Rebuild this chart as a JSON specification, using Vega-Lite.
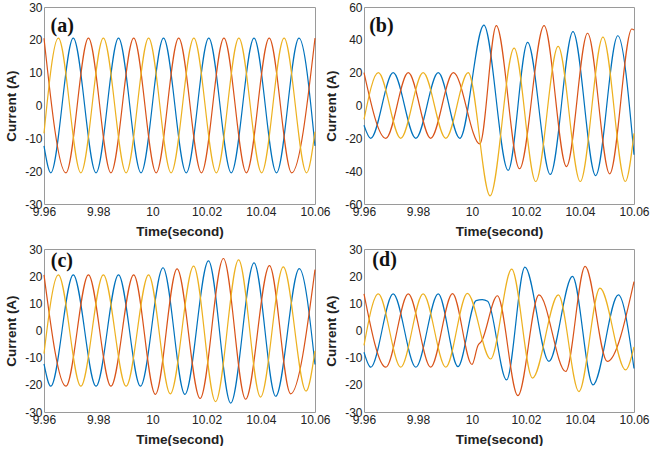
{
  "$schema": "https://vega.github.io/schema/vega-lite/v6.json",
  "background": "white",
  "padding": {"left": 4, "top": 0, "right": 0, "bottom": 0},
  "config": {
    "view": {"stroke": "#9a9a9a", "strokeWidth": 1},
    "axis": {"grid": false, "ticks": false, "domain": false, "labelFont": "Liberation Sans", "labelFontSize": 12, "labelColor": "#222", "labelPadding": 2, "labelFlush": false, "labelOverlap": false, "labelExpr": "'' + datum.value", "titleFont": "Liberation Sans", "titleFontSize": 13.5, "titleFontWeight": "bold", "titleColor": "#222"},
    "axisX": {"titlePadding": 7},
    "axisY": {"titlePadding": 6},
    "line": {"strokeWidth": 1.2, "interpolate": "monotone", "clip": true}
  },
  "datasets": {
    "a": [
      {"s":"A","t":9.96,"v":-12.3},{"s":"A","t":9.9625,"v":-20.5},{"s":"A","t":9.9708,"v":20.5},{"s":"A","t":9.9792,"v":-20.5},{"s":"A","t":9.9875,"v":20.5},{"s":"A","t":9.9958,"v":-20.5},{"s":"A","t":10.0041,"v":20.5},{"s":"A","t":10.0125,"v":-20.5},{"s":"A","t":10.0208,"v":20.5},{"s":"A","t":10.0291,"v":-20.5},{"s":"A","t":10.0375,"v":20.5},{"s":"A","t":10.0458,"v":-20.5},{"s":"A","t":10.0541,"v":20.5},{"s":"A","t":10.06,"v":-12.3},
      {"s":"B","t":9.96,"v":20.5},{"s":"B","t":9.9681,"v":-20.5},{"s":"B","t":9.9764,"v":20.5},{"s":"B","t":9.9847,"v":-20.5},{"s":"B","t":9.9931,"v":20.5},{"s":"B","t":10.0014,"v":-20.5},{"s":"B","t":10.0097,"v":20.5},{"s":"B","t":10.0181,"v":-20.5},{"s":"B","t":10.0264,"v":20.5},{"s":"B","t":10.0347,"v":-20.5},{"s":"B","t":10.0431,"v":20.5},{"s":"B","t":10.0514,"v":-20.5},{"s":"B","t":10.06,"v":20.5},
      {"s":"C","t":9.96,"v":-8.5},{"s":"C","t":9.9653,"v":20.5},{"s":"C","t":9.9736,"v":-20.5},{"s":"C","t":9.9819,"v":20.5},{"s":"C","t":9.9903,"v":-20.5},{"s":"C","t":9.9986,"v":20.5},{"s":"C","t":10.0069,"v":-20.5},{"s":"C","t":10.0153,"v":20.5},{"s":"C","t":10.0236,"v":-20.5},{"s":"C","t":10.0319,"v":20.5},{"s":"C","t":10.0403,"v":-20.5},{"s":"C","t":10.0486,"v":20.5},{"s":"C","t":10.0569,"v":-20.5},{"s":"C","t":10.06,"v":-8}
    ],
    "b": [
      {"s":"A","t":9.96,"v":-12},{"s":"A","t":9.9625,"v":-20},{"s":"A","t":9.9708,"v":20},{"s":"A","t":9.9792,"v":-20},{"s":"A","t":9.9875,"v":20},{"s":"A","t":9.9955,"v":-20},{"s":"A","t":10.0044,"v":49},{"s":"A","t":10.0134,"v":-39.5},{"s":"A","t":10.0206,"v":38.4},{"s":"A","t":10.029,"v":-42},{"s":"A","t":10.0374,"v":45},{"s":"A","t":10.0458,"v":-42.7},{"s":"A","t":10.054,"v":42.5},{"s":"A","t":10.06,"v":-30},
      {"s":"B","t":9.96,"v":20},{"s":"B","t":9.9681,"v":-20},{"s":"B","t":9.9764,"v":20},{"s":"B","t":9.9847,"v":-20},{"s":"B","t":9.9931,"v":20},{"s":"B","t":10.0029,"v":-23.4},{"s":"B","t":10.009,"v":48.6},{"s":"B","t":10.0176,"v":-38.5},{"s":"B","t":10.0267,"v":48.6},{"s":"B","t":10.035,"v":-37.2},{"s":"B","t":10.0428,"v":44},{"s":"B","t":10.051,"v":-41.6},{"s":"B","t":10.0592,"v":46.6},{"s":"B","t":10.06,"v":46},
      {"s":"C","t":9.96,"v":-8.5},{"s":"C","t":9.9653,"v":20},{"s":"C","t":9.9736,"v":-20},{"s":"C","t":9.9819,"v":20},{"s":"C","t":9.9903,"v":-20},{"s":"C","t":9.9986,"v":20},{"s":"C","t":10.0067,"v":-55},{"s":"C","t":10.0156,"v":35},{"s":"C","t":10.0236,"v":-46.3},{"s":"C","t":10.0319,"v":36},{"s":"C","t":10.0401,"v":-46.3},{"s":"C","t":10.0485,"v":41.7},{"s":"C","t":10.0568,"v":-46.3},{"s":"C","t":10.06,"v":-17}
    ],
    "c": [
      {"s":"A","t":9.96,"v":-12.3},{"s":"A","t":9.9625,"v":-20.5},{"s":"A","t":9.9708,"v":20.5},{"s":"A","t":9.9792,"v":-20.5},{"s":"A","t":9.9875,"v":20.5},{"s":"A","t":9.9956,"v":-20.5},{"s":"A","t":10.0039,"v":23.1},{"s":"A","t":10.012,"v":-23.5},{"s":"A","t":10.0207,"v":25.6},{"s":"A","t":10.0289,"v":-26.7},{"s":"A","t":10.0375,"v":24.9},{"s":"A","t":10.0455,"v":-24.2},{"s":"A","t":10.0542,"v":22.8},{"s":"A","t":10.06,"v":-12.5},
      {"s":"B","t":9.96,"v":20.5},{"s":"B","t":9.9681,"v":-20.5},{"s":"B","t":9.9764,"v":20.5},{"s":"B","t":9.9847,"v":-20.5},{"s":"B","t":9.9931,"v":20.5},{"s":"B","t":10.0011,"v":-23.5},{"s":"B","t":10.0091,"v":22.7},{"s":"B","t":10.0176,"v":-25},{"s":"B","t":10.0262,"v":26.5},{"s":"B","t":10.0344,"v":-25.3},{"s":"B","t":10.0432,"v":23.9},{"s":"B","t":10.051,"v":-23.3},{"s":"B","t":10.06,"v":22.4},
      {"s":"C","t":9.96,"v":-8.5},{"s":"C","t":9.9653,"v":20.5},{"s":"C","t":9.9736,"v":-20.5},{"s":"C","t":9.9819,"v":20.5},{"s":"C","t":9.9903,"v":-20.5},{"s":"C","t":9.9986,"v":20.5},{"s":"C","t":10.0066,"v":-23.3},{"s":"C","t":10.0152,"v":23.7},{"s":"C","t":10.0233,"v":-26.2},{"s":"C","t":10.0318,"v":26},{"s":"C","t":10.0399,"v":-24.5},{"s":"C","t":10.0483,"v":23.4},{"s":"C","t":10.0567,"v":-22.3},{"s":"C","t":10.06,"v":-7.5}
    ],
    "d": [
      {"s":"A","t":9.96,"v":-8},{"s":"A","t":9.9625,"v":-13.5},{"s":"A","t":9.9708,"v":13.5},{"s":"A","t":9.9792,"v":-13.5},{"s":"A","t":9.9875,"v":13.5},{"s":"A","t":9.9948,"v":-13.3},{"s":"A","t":10.0015,"v":11},{"s":"A","t":10.0038,"v":11.4},{"s":"A","t":10.0058,"v":10.8},{"s":"A","t":10.0128,"v":-18.2},{"s":"A","t":10.0196,"v":23.3},{"s":"A","t":10.0285,"v":-11.4},{"s":"A","t":10.0372,"v":19.9},{"s":"A","t":10.0448,"v":-20},{"s":"A","t":10.0542,"v":13.1},{"s":"A","t":10.06,"v":-14},
      {"s":"B","t":9.96,"v":13.5},{"s":"B","t":9.9681,"v":-13.5},{"s":"B","t":9.9764,"v":13.5},{"s":"B","t":9.9847,"v":-13.5},{"s":"B","t":9.9928,"v":13.6},{"s":"B","t":10.0,"v":-12.5},{"s":"B","t":10.0022,"v":-5.5},{"s":"B","t":10.0035,"v":-4},{"s":"B","t":10.0094,"v":12.8},{"s":"B","t":10.017,"v":-24},{"s":"B","t":10.0248,"v":13.1},{"s":"B","t":10.0347,"v":-15.1},{"s":"B","t":10.0419,"v":23.6},{"s":"B","t":10.0501,"v":-11.4},{"s":"B","t":10.06,"v":18},
      {"s":"C","t":9.96,"v":-5.5},{"s":"C","t":9.9653,"v":13.5},{"s":"C","t":9.9736,"v":-13.5},{"s":"C","t":9.9819,"v":13.5},{"s":"C","t":9.9903,"v":-13.5},{"s":"C","t":9.9983,"v":13.7},{"s":"C","t":10.0069,"v":-10.5},{"s":"C","t":10.0147,"v":22.6},{"s":"C","t":10.0224,"v":-17.5},{"s":"C","t":10.032,"v":13.1},{"s":"C","t":10.0396,"v":-22.5},{"s":"C","t":10.0474,"v":15.6},{"s":"C","t":10.0569,"v":-14.5},{"s":"C","t":10.06,"v":-6}
    ]
  },
  "vconcat": [
    {
      "hconcat": [
        {
          "width": 271, "height": 197,
          "layer": [
            {"data": {"name": "a"}, "mark": {"type": "line"},
             "encoding": {
               "x": {"field": "t", "type": "quantitative", "scale": {"domain": [9.96, 10.06], "nice": false, "zero": false}, "axis": {"values": [9.96, 9.98, 10, 10.02, 10.04, 10.06], "title": "Time(second)"}},
               "y": {"field": "v", "type": "quantitative", "scale": {"domain": [-30, 30], "nice": false}, "axis": {"values": [-30, -20, -10, 0, 10, 20, 30], "tickCount": 7, "title": "Current (A)"}},
               "color": {"field": "s", "type": "nominal", "scale": {"domain": ["A", "B", "C"], "range": ["#0072BD", "#D95319", "#EDB120"]}, "legend": null}
             }},
            {"data": {"values": [{"label": "(a)"}]}, "mark": {"type": "text", "font": "Liberation Serif", "fontSize": 20, "fontWeight": "bold", "align": "left", "baseline": "middle", "color": "#111"},
             "encoding": {"x": {"datum": 9.9624, "type": "quantitative"}, "y": {"datum": 24.2, "type": "quantitative"}, "text": {"field": "label"}}}
          ]
        },
        {
          "width": 270, "height": 197,
          "layer": [
            {"data": {"name": "b"}, "mark": {"type": "line"},
             "encoding": {
               "x": {"field": "t", "type": "quantitative", "scale": {"domain": [9.96, 10.06], "nice": false, "zero": false}, "axis": {"values": [9.96, 9.98, 10, 10.02, 10.04, 10.06], "title": "Time(second)"}},
               "y": {"field": "v", "type": "quantitative", "scale": {"domain": [-60, 60], "nice": false}, "axis": {"values": [-60, -40, -20, 0, 20, 40, 60], "tickCount": 7, "title": "Current (A)"}},
               "color": {"field": "s", "type": "nominal", "scale": {"domain": ["A", "B", "C"], "range": ["#0072BD", "#D95319", "#EDB120"]}, "legend": null}
             }},
            {"data": {"values": [{"label": "(b)"}]}, "mark": {"type": "text", "font": "Liberation Serif", "fontSize": 20, "fontWeight": "bold", "align": "left", "baseline": "middle", "color": "#111"},
             "encoding": {"x": {"datum": 9.9619, "type": "quantitative"}, "y": {"datum": 48.6, "type": "quantitative"}, "text": {"field": "label"}}}
          ]
        }
      ],
      "spacing": 49,
      "bounds": "flush"
    },
    {
      "hconcat": [
        {
          "width": 271, "height": 163,
          "layer": [
            {"data": {"name": "c"}, "mark": {"type": "line"},
             "encoding": {
               "x": {"field": "t", "type": "quantitative", "scale": {"domain": [9.96, 10.06], "nice": false, "zero": false}, "axis": {"values": [9.96, 9.98, 10, 10.02, 10.04, 10.06], "title": "Time(second)"}},
               "y": {"field": "v", "type": "quantitative", "scale": {"domain": [-30, 30], "nice": false}, "axis": {"values": [-30, -20, -10, 0, 10, 20, 30], "tickCount": 7, "title": "Current (A)"}},
               "color": {"field": "s", "type": "nominal", "scale": {"domain": ["A", "B", "C"], "range": ["#0072BD", "#D95319", "#EDB120"]}, "legend": null}
             }},
            {"data": {"values": [{"label": "(c)"}]}, "mark": {"type": "text", "font": "Liberation Serif", "fontSize": 20, "fontWeight": "bold", "align": "left", "baseline": "middle", "color": "#111"},
             "encoding": {"x": {"datum": 9.9625, "type": "quantitative"}, "y": {"datum": 25.5, "type": "quantitative"}, "text": {"field": "label"}}}
          ]
        },
        {
          "width": 270, "height": 163,
          "layer": [
            {"data": {"name": "d"}, "mark": {"type": "line"},
             "encoding": {
               "x": {"field": "t", "type": "quantitative", "scale": {"domain": [9.96, 10.06], "nice": false, "zero": false}, "axis": {"values": [9.96, 9.98, 10, 10.02, 10.04, 10.06], "title": "Time(second)"}},
               "y": {"field": "v", "type": "quantitative", "scale": {"domain": [-30, 30], "nice": false}, "axis": {"values": [-30, -20, -10, 0, 10, 20, 30], "tickCount": 7, "title": "Current (A)"}},
               "color": {"field": "s", "type": "nominal", "scale": {"domain": ["A", "B", "C"], "range": ["#0072BD", "#D95319", "#EDB120"]}, "legend": null}
             }},
            {"data": {"values": [{"label": "(d)"}]}, "mark": {"type": "text", "font": "Liberation Serif", "fontSize": 20, "fontWeight": "bold", "align": "left", "baseline": "middle", "color": "#111"},
             "encoding": {"x": {"datum": 9.9631, "type": "quantitative"}, "y": {"datum": 25.8, "type": "quantitative"}, "text": {"field": "label"}}}
          ]
        }
      ],
      "spacing": 49,
      "bounds": "flush"
    }
  ],
  "spacing": 4
}
